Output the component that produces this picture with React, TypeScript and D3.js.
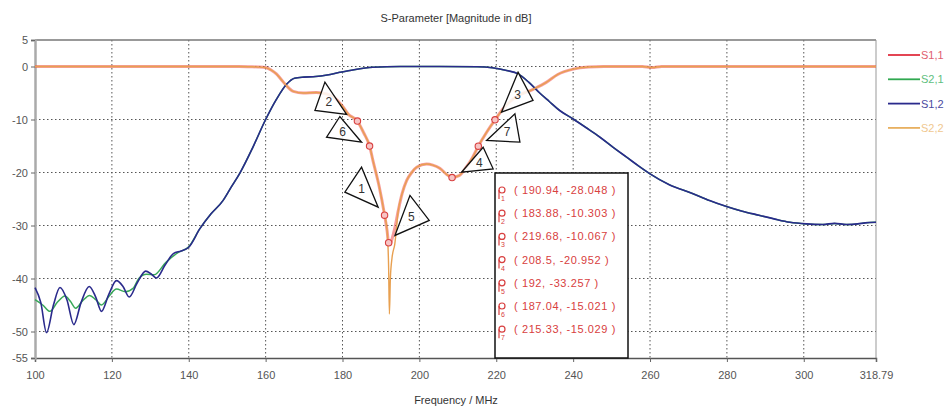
import { useEffect, useRef } from "react";
import * as d3 from "d3";

// S1,2 (blue) transmission
const s12Freq = [100, 101.5, 103, 104.8, 106.5, 108.3, 110.1, 112, 114.1, 115.8, 117.3, 119.2, 121.2, 122.9, 124.5, 126.6, 128.8, 130.3, 131.6, 133.8, 136, 138, 140, 142.9, 145.8, 148.9, 151, 153.3, 156.7, 160, 162.8, 165.5, 167.5, 170, 173, 176, 179.3, 183, 187.9, 195, 205, 215, 219, 222.7, 225.7, 228.5, 231.3, 233.8, 236.5, 240, 243.5, 246.9, 250.5, 253.9, 256.9, 259.9, 265, 271.2, 275.5, 279.9, 284, 288.6, 292.5, 296.4, 300.7, 305, 308, 311.1, 314, 316, 318.79];
const s12Db = [-41.7, -44.5, -50.2, -45, -41.7, -44, -48.7, -44.5, -41.5, -43.5, -46.2, -43, -40.4, -41.5, -43.5, -40.8, -38.6, -39.2, -39.9, -37.5, -35.3, -34.8, -34.1, -30.6, -27.8, -25.3, -22.8, -20.1, -15.2, -10, -6.2, -3.3, -2.2, -2.0, -1.9, -1.6, -1.1, -0.6, -0.15, 0, 0, -0.05, -0.25, -0.75, -1.4, -3.0, -5.0, -6.6, -8.3, -9.9, -11.6, -13.3, -15.3, -17.1, -18.7, -20.2, -22.3, -24.0, -25.3, -26.4, -27.3, -28.1, -28.8, -29.4, -29.7, -29.8, -29.6, -29.8, -29.7, -29.5, -29.4];

// S2,1 (green) transmission
const s21Freq = [100, 102, 103.9, 105.8, 107.8, 109.2, 110.6, 112.4, 114.2, 115.8, 117.3, 119.3, 121.2, 123.5, 125.6, 127, 129, 131, 134, 137, 140, 142.9, 145.8, 148.9, 151, 153.3, 156.7, 160, 162.8, 165.5, 167.5, 170, 173, 176, 179.3, 183, 187.9, 195, 205, 215, 219, 222.7, 225.7, 228.5, 231.3, 233.8, 236.5, 240, 243.5, 246.9, 250.5, 253.9, 256.9, 259.9, 265, 271.2, 275.5, 279.9, 284, 288.6, 292.5, 296.4, 300.7, 305, 308, 311.1, 314, 316, 318.79];
const s21Db = [-44, -45, -46.2, -44.5, -43.3, -44.3, -45.6, -44.2, -43.2, -44, -45, -43.3, -42, -42.5, -41.8, -40, -39.2, -39.3, -37, -35.2, -34, -30.6, -27.8, -25.3, -22.8, -20.1, -15.2, -10, -6.2, -3.3, -2.2, -2.0, -1.9, -1.6, -1.1, -0.6, -0.15, 0, 0, -0.05, -0.25, -0.75, -1.4, -3.0, -5.0, -6.6, -8.3, -9.9, -11.6, -13.3, -15.3, -17.1, -18.7, -20.2, -22.3, -24.0, -25.3, -26.4, -27.3, -28.1, -28.8, -29.4, -29.7, -29.8, -29.6, -29.8, -29.7, -29.5, -29.4];

// S1,1 (red) reflection
const s11Freq = [100, 150, 153, 156, 158, 160.2, 161.5, 162.8, 164, 165.4, 167.2, 169.8, 173.2, 176, 178, 180, 181.5, 183.88, 185.5, 187.04, 188, 189.5, 190.94, 191.6, 192, 192.4, 192.9, 193.6, 194.5, 195.5, 196.7, 198, 199.3, 201.9, 203.5, 205.3, 207, 208.5, 210.3, 212, 213.8, 215.33, 217.5, 219.68, 222, 225, 229.6, 233, 236, 240, 244, 248, 258, 260.5, 263, 270, 318.79];
const s11Db = [0, 0, 0, -0.05, -0.1, -0.25, -0.7, -1.4, -2.4, -3.6, -4.7, -5.0, -4.9, -5.2, -6.0, -7.5, -9.0, -10.3, -12.5, -15.0, -18.0, -22.5, -28.0, -31.0, -33.3, -33.6, -32.5, -30.5, -27.2, -24.0, -21.5, -20.0, -19.0, -18.4, -18.6, -19.2, -20.3, -20.95, -20.6, -19.2, -17.2, -15.03, -12.4, -10.07, -7.8, -5.8, -4.3, -3.0, -1.5, -0.5, -0.1, 0, 0, -0.2, 0, 0, 0];

// S2,2 (orange) reflection
const s22Freq = [100, 150, 153, 156, 158, 160.2, 161.5, 162.8, 164, 165.4, 167.2, 169.8, 173.2, 176, 178, 180, 181.5, 183.88, 185.5, 187.04, 188, 189.5, 190.94, 191.6, 192, 192.2, 192.45, 192.9, 193.6, 194.5, 195.5, 196.7, 198, 199.3, 201.9, 203.5, 205.3, 207, 208.5, 210.3, 212, 213.8, 215.33, 217.5, 219.68, 222, 225, 229.6, 233, 236, 240, 244, 248, 258, 260.5, 263, 270, 318.79];
const s22Db = [0, 0, 0, -0.05, -0.1, -0.25, -0.7, -1.4, -2.4, -3.6, -4.7, -5.0, -4.9, -5.2, -6.0, -7.5, -9.0, -10.3, -12.5, -15.0, -18.0, -22.5, -28.0, -31.0, -38.0, -46.7, -40.0, -36.0, -33.5, -27.2, -24.0, -21.5, -20.0, -19.0, -18.4, -18.6, -19.2, -20.3, -20.95, -20.6, -19.2, -17.2, -15.03, -12.4, -10.07, -7.8, -5.8, -4.3, -3.0, -1.5, -0.5, -0.1, 0, 0, -0.2, 0, 0, 0];

// markers
const markerIds = [1, 2, 3, 4, 5, 6, 7];
const markerFreq = [190.94, 183.88, 219.68, 208.5, 192, 187.04, 215.33];
const markerDb = [-28.048, -10.303, -10.067, -20.952, -33.257, -15.021, -15.029];

// axis ticks
const xTicks = [100, 120, 140, 160, 180, 200, 220, 240, 260, 280, 300, 318.79];
const yTicks = [5, 0, -10, -20, -30, -40, -50, -55];
const xGrid = [120, 140, 160, 180, 200, 220, 240, 260, 280, 300];
const yGrid = [0, -10, -20, -30, -40, -50];

const legendNames = ["S1,1", "S2,1", "S1,2", "S2,2"];
const legendColors = ["#e03040", "#30a850", "#2a2a8c", "#e8b060"];
const legendText = ["#e06070", "#60c080", "#4a4aa0", "#f0c890"];

// callout triangle vertex offsets (px) from each marker
const calloutOffsets: [number, number][][] = [
  [[-23, -48], [-39.7, -23], [-6.4, -8]],
  [[-32.5, -39], [-42.5, -10.6], [-10.8, -6.6]],
  [[23, -47.7], [38, -19.4], [6.5, -7.7]],
  [[31.1, -30.3], [41.1, -8.7], [9.5, -5.3]],
  [[21.3, -47.3], [40.6, -22.3], [6.3, -7.3]],
  [[-29.7, -29.6], [-43, -8.9], [-8, -3.9]],
  [[36.6, -32.4], [41.6, -4], [8.3, -5.7]],
];

const FONT = "'Liberation Sans', Arial, sans-serif";

export default function App() {
  const ref = useRef<SVGSVGElement | null>(null);

  useEffect(() => {
    const svg = d3.select(ref.current);
    svg.selectAll("*").remove();

    const left = 35, right = 876, top = 40, bottom = 358;
    const x = d3.scaleLinear().domain([100, 318.79]).range([left, right]);
    const y = d3.scaleLinear().domain([-55, 5]).range([bottom, top]);

    svg.append("rect").attr("width", 945).attr("height", 412).attr("fill", "#fff");

    // title + axis label
    svg.append("text").attr("x", 456).attr("y", 22).attr("text-anchor", "middle")
      .attr("font-family", FONT).attr("font-size", 11).attr("fill", "#333")
      .text("S-Parameter [Magnitude in dB]");
    svg.append("text").attr("x", 456).attr("y", 404).attr("text-anchor", "middle")
      .attr("font-family", FONT).attr("font-size", 11).attr("fill", "#333")
      .text("Frequency / MHz");

    // grid
    const grid = svg.append("g").attr("stroke", "#555").attr("stroke-width", 1)
      .attr("stroke-dasharray", "1.5,2.5");
    xGrid.forEach(v => {
      grid.append("line").attr("x1", x(v)).attr("x2", x(v)).attr("y1", top).attr("y2", bottom);
    });
    yGrid.forEach(v => {
      grid.append("line").attr("x1", left).attr("x2", right).attr("y1", y(v)).attr("y2", y(v));
    });

    // frame
    svg.append("line").attr("x1", left).attr("x2", right).attr("y1", top).attr("y2", top)
      .attr("stroke", "#777").attr("stroke-width", 1.5);
    svg.append("line").attr("x1", right).attr("x2", right).attr("y1", top).attr("y2", bottom)
      .attr("stroke", "#999").attr("stroke-width", 1);

    // axes
    const xAxis = svg.append("g").attr("transform", `translate(0,${bottom})`)
      .call(d3.axisBottom(x).tickValues(xTicks).tickSize(4).tickPadding(9)
        .tickFormat(d => String(d)));
    const yAxis = svg.append("g").attr("transform", `translate(${left},0)`)
      .call(d3.axisLeft(y).tickValues(yTicks).tickSize(4).tickPadding(3)
        .tickFormat(d => String(d)));
    xAxis.select(".domain").attr("stroke", "#555").attr("stroke-width", 1.5);
    yAxis.select(".domain").attr("stroke", "#aaa").attr("stroke-width", 2.5);
    [xAxis, yAxis].forEach(a => {
      a.selectAll(".tick line").attr("stroke", "#666");
      a.selectAll(".tick text").attr("font-family", FONT).attr("font-size", 11).attr("fill", "#555");
    });

    // curves
    const plot = svg.append("g");
    const line = d3.line<[number, number]>()
      .x(d => x(d[0])).y(d => y(d[1])).curve(d3.curveMonotoneX);
    const draw = (fs: number[], vs: number[], color: string, w: number, op = 1) => {
      plot.append("path").datum(fs.map((f, i) => [f, vs[i]] as [number, number]))
        .attr("d", line).attr("fill", "none").attr("stroke", color)
        .attr("stroke-width", w).attr("stroke-opacity", op).attr("stroke-linejoin", "round");
    };
    draw(s11Freq, s11Db, "#f04a4a", 3, 0.55);
    draw(s21Freq, s21Db, "#38a858", 1.5);
    draw(s12Freq, s12Db, "#2a2a8c", 1.6);
    draw(s22Freq, s22Db, "#e8a050", 1.4);

    // markers on curve
    markerIds.forEach((id, i) => {
      svg.append("circle").attr("cx", x(markerFreq[i])).attr("cy", y(markerDb[i])).attr("r", 3.2)
        .attr("fill", "#f7c4c4").attr("stroke", "#d84040").attr("stroke-width", 1.1);
    });

    // callouts
    markerIds.forEach((id, i) => {
      const mx = x(markerFreq[i]), my = y(markerDb[i]);
      const pts = calloutOffsets[i].map(([dx, dy]) => [mx + dx, my + dy]);
      svg.append("polygon").attr("points", pts.map(p => p.join(",")).join(" "))
        .attr("fill", "#fff").attr("fill-opacity", 0.85).attr("stroke", "#111").attr("stroke-width", 1.3);
      const cx = d3.mean(pts, p => p[0]) as number;
      const cy = d3.mean(pts, p => p[1]) as number;
      svg.append("text").attr("x", cx).attr("y", cy + 4).attr("text-anchor", "middle")
        .attr("font-family", FONT).attr("font-size", 12).attr("fill", "#333").text(String(id));
    });

    // marker readout box
    const bx = 495, by = 173, bw = 133, bh = bottom - 173;
    svg.append("rect").attr("x", bx).attr("y", by).attr("width", bw).attr("height", bh)
      .attr("fill", "#fff").attr("stroke", "#111").attr("stroke-width", 1.5);
    markerIds.forEach((id, i) => {
      const ry = 194 + i * 23.2;
      svg.append("circle").attr("cx", 502).attr("cy", ry - 4).attr("r", 3)
        .attr("fill", "none").attr("stroke", "#d84040").attr("stroke-width", 1.2);
      svg.append("line").attr("x1", 499).attr("x2", 499).attr("y1", ry - 4).attr("y2", ry + 5)
        .attr("stroke", "#d84040").attr("stroke-width", 1.2);
      svg.append("text").attr("x", 501).attr("y", ry + 7).attr("font-family", FONT)
        .attr("font-size", 7).attr("fill", "#d84040").text(String(id));
      svg.append("text").attr("x", 514).attr("y", ry).attr("font-family", FONT)
        .attr("font-size", 11).attr("letter-spacing", 0.6).attr("fill", "#d84040")
        .text(`( ${markerFreq[i]}, ${markerDb[i]} )`);
    });

    // legend
    legendNames.forEach((name, i) => {
      const ly = 55 + i * 24.3;
      svg.append("line").attr("x1", 888).attr("x2", 920).attr("y1", ly).attr("y2", ly)
        .attr("stroke", legendColors[i]).attr("stroke-width", 1.8);
      svg.append("text").attr("x", 921).attr("y", ly + 4).attr("font-family", FONT)
        .attr("font-size", 11).attr("fill", legendText[i]).text(name);
    });
  }, []);

  return (
    <svg ref={ref} width={945} height={412}
      style={{ position: "absolute", left: 0, top: 0, display: "block" }} />
  );
}
